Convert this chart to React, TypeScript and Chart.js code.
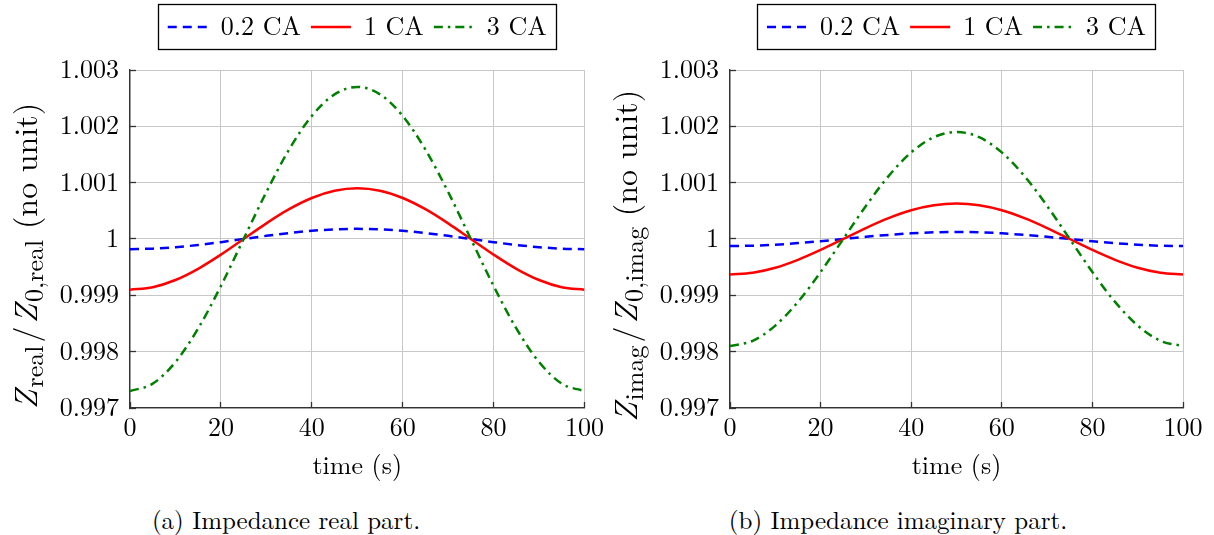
import React, { useEffect, useRef } from 'react';
import { Chart, registerables } from 'chart.js';

Chart.register(...registerables);

const FONT = "'Latin Modern Roman', 'Liberation Serif', serif";

// time axis (s)
const times = [0, 5, 10, 15, 20, 25, 30, 35, 40, 45, 50, 55, 60, 65, 70, 75, 80, 85, 90, 95, 100];

// (a) real part
const real02 = [0.99982, 0.999829, 0.999854, 0.999894, 0.999944, 1.0, 1.000056, 1.000106, 1.000146, 1.000171, 1.00018, 1.000171, 1.000146, 1.000106, 1.000056, 1.0, 0.999944, 0.999894, 0.999854, 0.999829, 0.99982];
const real1 = [0.9991, 0.999144, 0.999272, 0.999471, 0.999722, 1.0, 1.000278, 1.000529, 1.000728, 1.000856, 1.0009, 1.000856, 1.000728, 1.000529, 1.000278, 1.0, 0.999722, 0.999471, 0.999272, 0.999144, 0.9991];
const real3 = [0.9973, 0.997432, 0.997816, 0.998412, 0.999166, 1.0, 1.000834, 1.001588, 1.002184, 1.002568, 1.0027, 1.002568, 1.002184, 1.001588, 1.000834, 1.0, 0.999166, 0.998412, 0.997816, 0.997432, 0.9973];

// (b) imaginary part
const imag02 = [0.999875, 0.999881, 0.999899, 0.999927, 0.999961, 1.0, 1.000039, 1.000073, 1.000101, 1.000119, 1.000125, 1.000119, 1.000101, 1.000073, 1.000039, 1.0, 0.999961, 0.999927, 0.999899, 0.999881, 0.999875];
const imag1 = [0.99937, 0.999401, 0.99949, 0.99963, 0.999805, 1.0, 1.000195, 1.00037, 1.00051, 1.000599, 1.00063, 1.000599, 1.00051, 1.00037, 1.000195, 1.0, 0.999805, 0.99963, 0.99949, 0.999401, 0.99937];
const imag3 = [0.9981, 0.998193, 0.998463, 0.998883, 0.999413, 1.0, 1.000587, 1.001117, 1.001537, 1.001807, 1.0019, 1.001807, 1.001537, 1.001117, 1.000587, 1.0, 0.999413, 0.998883, 0.998463, 0.998193, 0.9981];

const seriesLabels = ['0.2 CA', '1 CA', '3 CA'];
const seriesColors = ['#0000ff', '#ff0000', '#008000'];
const seriesDashes: number[][] = [[9, 6], [], [9, 5, 2.5, 5]];

const xTickValues = [0, 20, 40, 60, 80, 100];
const xTickLabels = ['0', '20', '40', '60', '80', '100'];
const yTickValues = [0.997, 0.998, 0.999, 1.0, 1.001, 1.002, 1.003];
const yTickLabels = ['0.997', '0.998', '0.999', '1', '1.001', '1.002', '1.003'];

const xTitle = 'time (s)';
const captionA = '(a) Impedance real part.';
const captionB = '(b) Impedance imaginary part.';

type Part = { text: string; italic?: boolean; sub?: boolean; padL?: number; padR?: number };

const yTitleReal: Part[] = [
  { text: 'Z', italic: true },
  { text: 'real', sub: true },
  { text: '/', padL: 3, padR: 3 },
  { text: 'Z', italic: true },
  { text: '0,real', sub: true },
  { text: ' (no unit)' },
];
const yTitleImag: Part[] = [
  { text: 'Z', italic: true },
  { text: 'imag', sub: true },
  { text: '/', padL: 3, padR: 3 },
  { text: 'Z', italic: true },
  { text: '0,imag', sub: true },
  { text: ' (no unit)' },
];

const MAIN_SIZE = 32;
const SUB_SIZE = 26;

function makeDecor(parts: Part[]) {
  return {
    id: 'decor',
    afterDraw(chart: any) {
      const ctx: CanvasRenderingContext2D = chart.ctx;
      const lg = chart.legend;
      if (lg && lg.legendHitBoxes && lg.legendHitBoxes.length) {
        const boxes = lg.legendHitBoxes;
        const l = Math.min(...boxes.map((b: any) => b.left)) - 10;
        const r = Math.max(...boxes.map((b: any) => b.left + b.width)) + 9;
        const t = Math.min(...boxes.map((b: any) => b.top)) - 10;
        const bt = Math.max(...boxes.map((b: any) => b.top + b.height)) + 9;
        ctx.save();
        ctx.setLineDash([]);
        ctx.strokeStyle = '#000';
        ctx.lineWidth = 1.3;
        ctx.strokeRect(Math.round(l) + 0.5, Math.round(t) + 0.5, Math.round(r - l), Math.round(bt - t));
        ctx.restore();
      }
      // y axis title with subscripts
      ctx.save();
      ctx.fillStyle = '#000';
      ctx.textAlign = 'left';
      ctx.textBaseline = 'alphabetic';
      const fontOf = (p: Part) => `${p.italic ? 'italic ' : ''}${p.sub ? SUB_SIZE : MAIN_SIZE}px ${FONT}`;
      const widths = parts.map((p) => {
        ctx.font = fontOf(p);
        return ctx.measureText(p.text).width + (p.padL || 0) + (p.padR || 0) + (p.italic ? 2 : 0);
      });
      const total = widths.reduce((a, b) => a + b, 0);
      ctx.translate(37, 256);
      ctx.rotate(-Math.PI / 2);
      let x = -total / 2;
      parts.forEach((p, i) => {
        ctx.font = fontOf(p);
        ctx.fillText(p.text, x + (p.padL || 0), p.sub ? 6 : 0);
        x += widths[i];
      });
      ctx.restore();
    },
  };
}

function ImpedanceChart(props: { series: number[][]; yParts: Part[]; left: number; padRight: number }) {
  const ref = useRef<HTMLCanvasElement>(null);
  useEffect(() => {
    const canvas = ref.current;
    if (!canvas) return;
    let alive = true;
    const font = { family: FONT, size: 26 };
    const chart = new Chart(canvas, {
      type: 'line',
      data: {
        datasets: props.series.map((vals, i) => ({
          label: seriesLabels[i],
          data: times.map((t, j) => ({ x: t, y: vals[j] })),
          borderColor: seriesColors[i],
          backgroundColor: seriesColors[i],
          borderWidth: 2.5,
          borderDash: seriesDashes[i],
          pointRadius: 0,
          pointHoverRadius: 0,
          fill: false,
          cubicInterpolationMode: 'monotone',
          order: 2 - i,
        })),
      },
      options: {
        responsive: false,
        animation: false,
        devicePixelRatio: 1,
        events: [],
        layout: { padding: { top: 4, right: props.padRight, bottom: 0, left: 0 } },
        plugins: {
          tooltip: { enabled: false },
          title: { display: false },
          subtitle: {
            display: true,
            text: '',
            position: 'top',
            weight: 500,
            padding: 0,
            font: { family: FONT, size: 20, lineHeight: 1 },
          } as any,
          legend: {
            display: true,
            position: 'top',
            fullSize: false,
            align: 'center',
            labels: {
              usePointStyle: true,
              pointStyle: 'line',
              pointStyleWidth: 40,
              padding: 10,
              color: '#000',
              font,
              generateLabels: (ch: any) =>
                ch.data.datasets.map((ds: any, i: number) => ({
                  text: ds.label,
                  strokeStyle: ds.borderColor,
                  fillStyle: ds.borderColor,
                  fontColor: '#000',
                  lineWidth: ds.borderWidth,
                  lineDash: ds.borderDash,
                  lineCap: 'butt',
                  pointStyle: 'line',
                  hidden: false,
                  datasetIndex: i,
                })),
            },
          } as any,
        },
        scales: {
          x: {
            type: 'linear',
            min: 0,
            max: 100,
            afterBuildTicks: (s: any) => {
              s.ticks = xTickValues.map((v) => ({ value: v }));
            },
            afterFit: (s: any) => {
              s.height = 82;
            },
            ticks: {
              autoSkip: false,
              maxRotation: 0,
              padding: 10,
              color: '#000',
              font,
              callback: (v: any) => {
                const i = xTickValues.findIndex((t) => Math.abs(t - Number(v)) < 1e-9);
                return i >= 0 ? xTickLabels[i] : '';
              },
            },
            grid: { color: '#c8c8c8', lineWidth: 1, tickLength: -6, tickColor: '#333', tickWidth: 1.3 },
            border: { display: true, color: '#333', width: 1.3 },
            title: {
              display: true,
              text: xTitle,
              color: '#000',
              font: { family: FONT, size: 26, lineHeight: 1.2 },
              padding: { top: 0, bottom: 8 },
            },
          },
          y: {
            type: 'linear',
            min: 0.997,
            max: 1.003,
            afterBuildTicks: (s: any) => {
              s.ticks = yTickValues.map((v) => ({ value: v }));
            },
            afterFit: (s: any) => {
              s.width = 130;
            },
            ticks: {
              autoSkip: false,
              padding: 17,
              color: '#000',
              font,
              callback: (v: any) => {
                const i = yTickValues.findIndex((t) => Math.abs(t - Number(v)) < 1e-9);
                return i >= 0 ? yTickLabels[i] : '';
              },
            },
            grid: { color: '#c8c8c8', lineWidth: 1, tickLength: -6, tickColor: '#333', tickWidth: 1.3 },
            border: { display: true, color: '#333', width: 1.3 },
          },
        },
      } as any,
      plugins: [makeDecor(props.yParts)],
    });
    const fontsApi: any = (document as any).fonts;
    if (fontsApi && fontsApi.load) {
      Promise.all([
        fontsApi.load(`26px 'Latin Modern Roman'`),
        fontsApi.load(`italic 32px 'Latin Modern Roman'`),
      ])
        .then(() => {
          if (alive) chart.update();
        })
        .catch(() => {});
    }
    return () => {
      alive = false;
      chart.destroy();
    };
  }, []);
  return (
    <canvas
      ref={ref}
      width={614}
      height={490}
      style={{ position: 'absolute', left: props.left, top: 0, width: 614, height: 490, display: 'block' }}
    />
  );
}

const captionStyle = (center: number): React.CSSProperties => ({
  position: 'absolute',
  left: center - 250,
  width: 500,
  top: 504,
  height: 30,
  lineHeight: '30px',
  textAlign: 'center',
  fontFamily: FONT,
  fontSize: 25,
  color: '#000',
  whiteSpace: 'nowrap',
});

export default function App() {
  return (
    <div style={{ position: 'absolute', left: 0, top: 0, width: 1214, height: 535, background: '#fff', overflow: 'hidden' }}>
      <ImpedanceChart series={[real02, real1, real3]} yParts={yTitleReal} left={0} padRight={29} />
      <ImpedanceChart series={[imag02, imag1, imag3]} yParts={yTitleImag} left={600} padRight={31} />
      <div style={captionStyle(286)}>{captionA}</div>
      <div style={captionStyle(898)}>{captionB}</div>
    </div>
  );
}
